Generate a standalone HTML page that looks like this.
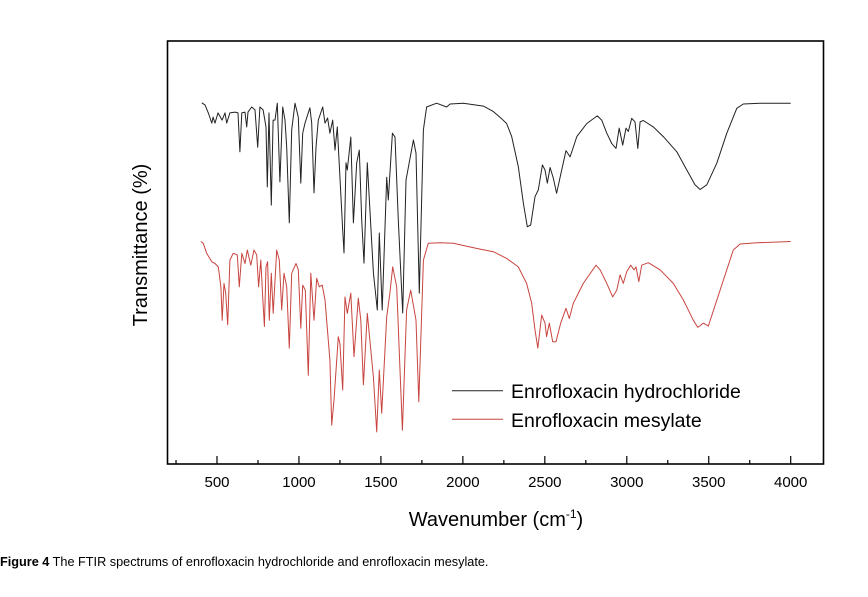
<!DOCTYPE html>
<html><head><meta charset="utf-8"><style>
html,body{margin:0;padding:0;background:#fff;}
svg{display:block;font-family:"Liberation Sans",Arial,sans-serif;}
</style></head><body>
<svg id="chart" width="868" height="597" viewBox="0 0 868 597" xmlns="http://www.w3.org/2000/svg">
<rect x="0" y="0" width="868" height="597" fill="#fff"/>
<g id="plot"></g>
<text x="0" y="566" font-size="12.7" fill="#000"><tspan font-weight="bold">Figure 4</tspan> The FTIR spectrums of enrofloxacin hydrochloride and enrofloxacin mesylate.</text>
</svg>
<script>
const xTicks = [500,1000,1500,2000,2500,3000,3500,4000];
const seriesNames = ["Enrofloxacin hydrochloride","Enrofloxacin mesylate"];
const hclWavenumber = [407,427,447,468,476,488,506,531,549,559,579,610,628,640,651,671,681,689,712,732,748,762,781,799,807,817,831,842,854,868,884,901,915,925,941,956,976,996,1011,1023,1037,1067,1078,1092,1104,1118,1145,1159,1175,1189,1206,1220,1234,1267,1275,1287,1295,1316,1332,1352,1368,1383,1397,1417,1454,1478,1490,1508,1535,1545,1570,1586,1606,1633,1653,1698,1714,1734,1759,1779,1840,1901,1922,2003,2125,2186,2237,2267,2298,2338,2369,2393,2414,2440,2460,2485,2501,2515,2532,2552,2572,2603,2629,2654,2695,2756,2820,2847,2878,2908,2934,2954,2975,2995,3009,3030,3050,3067,3081,3101,3162,3223,3305,3366,3416,3447,3488,3549,3610,3671,3711,3813,4000];
const hclTransmittance = [85.4,84.9,83.0,80.6,82.0,80.6,83.0,81.3,83.0,80.6,83.0,83.2,83.0,73.8,83.0,83.2,79.7,83.2,84.4,83.7,74.9,84.4,83.7,79.7,65.5,83.0,61.2,81.3,81.3,85.3,66.7,84.4,81.3,74.9,57.0,79.0,85.3,82.0,66.4,78.2,80.6,84.2,80.6,64.1,74.9,81.3,84.4,80.6,81.8,78.2,81.3,74.2,79.7,55.3,49.9,71.2,69.5,77.3,57.0,71.2,74.2,57.7,47.5,71.2,45.2,36.4,54.6,36.4,67.8,62.4,78.2,77.3,57.7,35.7,67.1,76.6,73.5,40.4,79.0,84.4,85.3,84.4,85.1,85.3,84.6,83.3,81.6,80.5,77.4,70.3,61.6,56.1,56.5,63.2,64.8,70.7,69.5,66.4,70.1,67.5,64.0,69.5,74.1,72.6,77.4,80.5,82.3,81.3,78.2,75.8,74.6,79.4,75.4,79.4,78.6,81.7,80.9,74.6,80.9,81.2,79.7,77.4,73.8,69.5,66.0,64.9,66.0,71.1,78.2,84.1,85.1,85.3,85.3];
const mesWavenumber = [401,416,437,468,488,508,524,532,543,553,565,579,599,624,636,651,671,685,706,726,742,754,767,779,789,799,809,819,831,843,864,880,895,909,925,941,956,982,996,1011,1023,1039,1057,1072,1092,1108,1124,1142,1159,1189,1200,1214,1240,1250,1267,1281,1295,1316,1336,1362,1377,1393,1417,1454,1474,1490,1505,1535,1555,1572,1596,1631,1657,1682,1714,1731,1759,1789,1861,1942,2023,2105,2186,2267,2338,2389,2420,2440,2457,2481,2501,2511,2527,2548,2568,2597,2629,2649,2674,2735,2812,2837,2878,2914,2939,2959,2979,3000,3024,3044,3056,3073,3091,3131,3203,3284,3345,3406,3433,3467,3497,3569,3650,3691,3793,4000];
const mesTransmittance = [52.6,52.2,49.8,47.8,47.4,46.6,41.9,34.0,42.7,40.4,32.9,48.2,49.8,49.4,41.9,49.8,47.4,50.6,47.0,50.6,49.4,41.9,48.2,39.5,32.5,46.6,47.8,34.0,45.1,35.6,50.6,48.2,36.4,45.1,41.9,27.4,45.1,47.4,45.9,32.1,42.3,41.1,21.0,45.1,34.0,43.9,41.9,42.3,38.8,24.6,9.2,15.1,30.1,28.5,17.5,39.5,35.6,40.4,25.4,39.2,34.0,18.7,35.6,20.6,7.6,22.2,12.0,34.8,40.4,46.6,41.9,8.0,36.4,41.1,34.0,14.7,48.2,52.2,52.3,52.2,51.5,50.8,50.2,48.6,46.6,42.7,38.0,31.7,27.4,35.2,33.3,30.1,33.3,28.9,28.9,33.3,36.8,34.4,38.0,42.7,47.0,45.9,42.7,39.5,41.1,44.7,42.7,45.5,47.0,45.9,46.6,43.1,47.0,47.6,45.9,42.7,38.8,34.0,32.3,33.3,32.6,41.1,50.6,52.0,52.3,52.6];

const NS='http://www.w3.org/2000/svg';
const L=167.5,R=823.5,T=41,B=464;
function xs(w){return 217+(w-500)*(790.7-217)/3500;}
function ys(t){return B-t*(B-T)/100;}
const g=document.getElementById('plot');
function mk(tag,attrs){const e=document.createElementNS(NS,tag);for(const k in attrs)e.setAttribute(k,attrs[k]);g.appendChild(e);return e;}

const frame=mk('rect',{x:L,y:T,width:R-L,height:B-T,fill:'none',stroke:'#000','stroke-width':1.6});



for(let w=250;w<=4100;w+=250){
  const major=(w%500===0);
  const t=mk('line',{x1:xs(w),x2:xs(w),y1:B,y2:B-(major?8:4),stroke:'#000','stroke-width':1.2});
  
  
}
xTicks.forEach(v=>{
  const t=mk('text',{x:xs(v),y:487,'font-size':15,'text-anchor':'middle',fill:'#000'});
  t.textContent=v;
  
  
});

function series(wn,tr,color,name){
  let d='';
  wn.forEach((w,i)=>{d+=(i?'L':'M')+xs(w).toFixed(1)+','+ys(tr[i]).toFixed(1);});
  const p=mk('path',{d:d,fill:'none',stroke:color,'stroke-width':1,'stroke-linejoin':'round'});
  
  
}
series(hclWavenumber,hclTransmittance,'#222','hydrochloride-spectrum');
series(mesWavenumber,mesTransmittance,'#c8453f','mesylate-spectrum');

const lg=[[390.7,'#222','legend-entry-hydrochloride'],[419.3,'#c8453f','legend-entry-mesylate']];
lg.forEach((e,i)=>{
  const ln=mk('line',{x1:452,x2:503,y1:e[0],y2:e[0],stroke:e[1],'stroke-width':1});
  
  
  const tx=mk('text',{x:511,y:e[0]+7.5,'font-size':19.5,fill:'#000'});
  tx.textContent=seriesNames[i];
  
  
});

const yt=mk('text',{x:0,y:0,'font-size':20,'text-anchor':'middle',fill:'#000',transform:'translate(147,245) rotate(-90)'});
yt.textContent='Transmittance (%)';



const xt=mk('text',{x:496,y:526,'font-size':20,'text-anchor':'middle',fill:'#000'});
xt.innerHTML='Wavenumber (cm<tspan dy="-8" font-size="12">-1</tspan><tspan dy="8">)</tspan>';


</script>
</body></html>
